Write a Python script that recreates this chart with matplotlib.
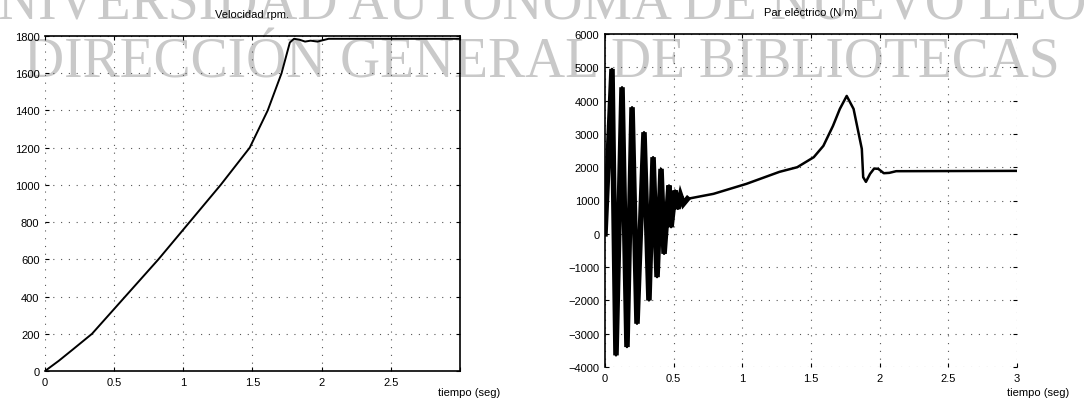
import numpy as np
import matplotlib.pyplot as plt

# Velocidad (rpm) vs tiempo (seg)
t_vel = [0, 0.1, 0.2, 0.34, 0.58, 0.82, 1.045, 1.27, 1.48, 1.61, 1.71, 1.77,
         1.80, 1.84, 1.88, 1.92, 1.97, 2.05, 3.0]
vel = [0, 55, 115, 200, 400, 600, 800, 1000, 1200, 1400, 1600, 1765,
       1785, 1780, 1770, 1775, 1770, 1785, 1785]

# Par electrico (N m) vs tiempo (seg): arranque con oscilaciones
t_par = [0, 0.051, 0.080, 0.124, 0.160, 0.197, 0.233, 0.284, 0.320, 0.350,
         0.379, 0.408, 0.430, 0.466, 0.481, 0.51, 0.53, 0.55, 0.57, 0.60,
         0.79, 1.03, 1.27, 1.40, 1.52, 1.59, 1.66, 1.71, 1.76, 1.81, 1.84,
         1.87, 1.88, 1.90, 1.93, 1.96, 1.99, 2.03, 2.07, 2.12, 3.0]
par = [0, 4950, -3650, 4400, -3400, 3800, -2700, 3050, -2000, 2300,
       -1300, 1950, -600, 1450, 200, 1300, 750, 1150, 900, 1050,
       1200, 1500, 1860, 2000, 2300, 2640, 3240, 3750, 4140, 3750, 3150,
       2550, 1700, 1560, 1800, 1960, 1950, 1820, 1830, 1880, 1890]
n_osc = 20  # puntos del tramo oscilatorio (bandas negras)

x_ticks = [0, 0.5, 1, 1.5, 2, 2.5, 3]
x_labels_vel = ['0', '0.5', '1', '1.5', '2', '2.5', '']
x_labels_par = ['0', '0.5', '1', '1.5', '2', '2.5', '3']
y_ticks_vel = list(range(0, 2000, 200))
y_ticks_par = list(range(-4000, 7000, 1000))

plt.rcParams['font.family'] = 'Liberation Sans'
plt.rcParams['font.size'] = 8

fig = plt.figure(figsize=(10.84, 4.02), dpi=100)

# marca de agua del escaneo
wm = dict(family='Liberation Serif', fontsize=40, color='#c9c9c9',
          ha='center', va='baseline', zorder=-1)
fig.text(0.5, 1 - 20 / 402, 'UNIVERSIDAD AUTÓNOMA DE NUEVO LEÓN', **wm)
fig.text(0.5, 1 - 78 / 402, 'DIRECCIÓN GENERAL DE BIBLIOTECAS', **wm)

ax1 = fig.add_axes([45 / 1084, 30 / 402, 415 / 1084, 335 / 402])
ax2 = fig.add_axes([605 / 1084, 34 / 402, 412 / 1084, 333 / 402])

for ax in (ax1, ax2):
    ax.set_facecolor('none')
    ax.set_xlim(0, 3)
    ax.grid(True, color='#555555', linestyle=(0, (1, 6)), linewidth=0.8)
    ax.tick_params(direction='in', length=3, top=True, right=True, pad=4)
    for s in ax.spines.values():
        s.set_linewidth(1.2)

ax1.plot(t_vel, vel, color='black', linewidth=1.4)
ax1.set_ylim(0, 1800)
ax1.set_yticks(y_ticks_vel)
ax1.set_xticks(x_ticks)
ax1.set_xticklabels(x_labels_vel)
ax1.spines['left'].set_visible(False)
ax1.set_title('Velocidad rpm.', fontsize=8, pad=14)

ax2.plot(t_par, par, color='black', linewidth=1.8)
ax2.plot(t_par[:n_osc], par[:n_osc], color='black', linewidth=4.0,
         solid_joinstyle='miter')
ax2.set_ylim(-4000, 6000)
ax2.set_yticks(y_ticks_par)
ax2.set_xticks(x_ticks)
ax2.set_xticklabels(x_labels_par)
ax2.spines['right'].set_visible(False)
ax2.spines['bottom'].set_visible(False)
ax2.set_title('Par eléctrico (N m)', fontsize=8, pad=14)

fig.text(438 / 1084, 1 - 396 / 402, 'tiempo (seg)', ha='left', va='baseline')
fig.text(1007 / 1084, 1 - 396 / 402, 'tiempo (seg)', ha='left', va='baseline')

fig.savefig('out.png', dpi=100)
